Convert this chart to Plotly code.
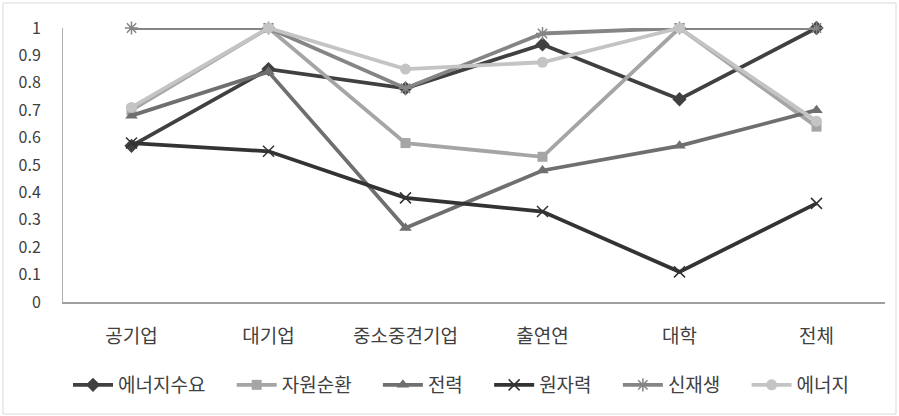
import plotly.graph_objects as go

categories = ["공기업", "대기업", "중소중견기업", "출연연", "대학", "전체"]
series_names = ["에너지수요", "자원순환", "전력", "원자력", "신재생", "에너지"]
energy_demand = [0.57, 0.85, 0.78, 0.94, 0.74, 1.0]
resource_cycle = [0.70, 1.0, 0.58, 0.53, 1.0, 0.64]
power = [0.68, 0.84, 0.27, 0.48, 0.57, 0.70]
nuclear = [0.58, 0.55, 0.38, 0.33, 0.11, 0.36]
renewable = [1.0, 1.0, 0.78, 0.98, 1.0, 1.0]
energy = [0.71, 1.0, 0.85, 0.875, 1.0, 0.66]
y_ticks = [0, 0.1, 0.2, 0.3, 0.4, 0.5, 0.6, 0.7, 0.8, 0.9, 1]
y_tick_labels = ["0", "0.1", "0.2", "0.3", "0.4", "0.5", "0.6", "0.7", "0.8", "0.9", "1"]

values = [energy_demand, resource_cycle, power, nuclear, renewable, energy]
colors = ["#404040", "#a5a5a5", "#6f6f6f", "#333333", "#858585", "#c4c4c4"]
symbols = ["diamond", "square", "triangle-up", "x-thin", "asterisk", "circle"]
sizes = [11, 10, 11, 11, 11, 11]

FONT = "Noto Sans CJK KR"
PAD = "\u00a0" * 5

fig = go.Figure()
for name, vals, col, sym, sz in zip(series_names, values, colors, symbols, sizes):
    marker = dict(symbol=sym, size=sz, color=col)
    if sym in ("x-thin", "asterisk"):
        marker["line"] = dict(color=col, width=1.5)
    fig.add_trace(go.Scatter(
        x=categories, y=vals, name=name + PAD, mode="lines+markers",
        line=dict(color=col, width=3.8),
        marker=marker, cliponaxis=False,
    ))

L, R, T, B = 63, 14, 28, 114
W, H = 899, 416
pw, ph = W - L - R, H - T - B

fig.update_layout(
    width=W, height=H,
    margin=dict(l=L, r=R, t=T, b=B),
    paper_bgcolor="white", plot_bgcolor="white",
    font=dict(family=FONT, size=16, color="#404040"),
    showlegend=True,
    legend=dict(orientation="h", x=(68 - L) / pw, xanchor="left",
                y=(H - B - 385) / ph, yanchor="middle",
                font=dict(family=FONT, size=19, color="#404040"),
                itemwidth=40, tracegroupgap=0),
    xaxis=dict(type="category", range=[-0.5, 5.5], showgrid=False, zeroline=False,
               showline=True, linecolor="#a0a0a0", linewidth=1.5, ticks="",
               tickfont=dict(family=FONT, size=19, color="#404040"),
               ticklabelstandoff=16),
    yaxis=dict(range=[0, 1], tickvals=y_ticks, ticktext=y_tick_labels,
               showgrid=False, zeroline=False, showline=True,
               linecolor="#b0b0b0", linewidth=1, ticks="",
               tickfont=dict(family=FONT, size=16, color="#404040"),
               ticklabelstandoff=18),
    shapes=[dict(type="rect", xref="paper", yref="paper",
                 x0=(3 - L) / pw, x1=(896 - L) / pw,
                 y0=(H - B - 414) / ph, y1=(H - B - 3) / ph,
                 line=dict(color="#d9d9d9", width=1), fillcolor="rgba(0,0,0,0)",
                 layer="below")],
)

fig.write_html("out.html")
